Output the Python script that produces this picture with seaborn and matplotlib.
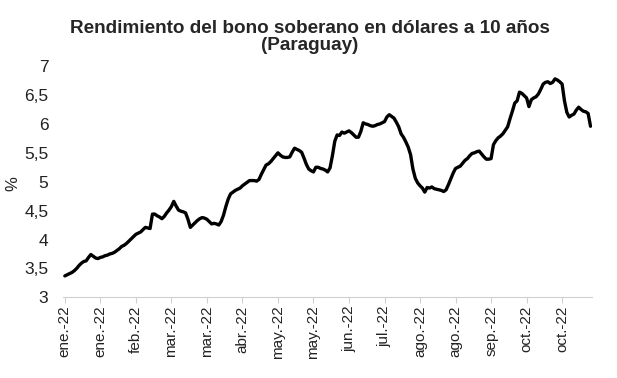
import numpy as np
import pandas as pd
import seaborn as sns
import matplotlib.pyplot as plt

# rendimiento diario (dias habiles desde 03-ene-2022), en %
rendimiento = [
    3.37, 3.39, 3.41, 3.43, 3.46, 3.50, 3.55, 3.59, 3.62, 3.63,
    3.69, 3.74, 3.71, 3.68, 3.67, 3.69, 3.70, 3.72, 3.73, 3.75,
    3.76, 3.78, 3.81, 3.84, 3.88, 3.90, 3.93, 3.97, 4.01, 4.05,
    4.09, 4.11, 4.13, 4.17, 4.21, 4.20, 4.19, 4.44, 4.44, 4.41,
    4.39, 4.36, 4.40, 4.46, 4.51, 4.57, 4.66, 4.58, 4.51, 4.49,
    4.48, 4.46, 4.35, 4.21, 4.25, 4.29, 4.33, 4.36, 4.38, 4.37,
    4.35, 4.31, 4.27, 4.28, 4.27, 4.25, 4.31, 4.42, 4.57, 4.70,
    4.79, 4.82, 4.85, 4.87, 4.89, 4.93, 4.96, 4.99, 5.02, 5.02,
    5.02, 5.01, 5.04, 5.13, 5.21, 5.29, 5.31, 5.35, 5.40, 5.45,
    5.50, 5.46, 5.43, 5.42, 5.42, 5.43, 5.51, 5.58, 5.56, 5.54,
    5.51, 5.41, 5.30, 5.22, 5.19, 5.17, 5.25, 5.25, 5.23, 5.22,
    5.20, 5.17, 5.24, 5.45, 5.70, 5.81, 5.80, 5.86, 5.84, 5.86,
    5.88, 5.85, 5.81, 5.77, 5.77, 5.87, 6.02, 6.00, 5.99, 5.97,
    5.96, 5.97, 5.99, 6.00, 6.02, 6.04, 6.12, 6.16, 6.13, 6.10,
    6.03, 5.95, 5.83, 5.77, 5.69, 5.60, 5.47, 5.22, 5.06, 4.98,
    4.93, 4.89, 4.82, 4.90, 4.89, 4.91, 4.88, 4.87, 4.86, 4.85,
    4.83, 4.86, 4.95, 5.05, 5.15, 5.23, 5.25, 5.27, 5.32, 5.37,
    5.40, 5.45, 5.49, 5.50, 5.52, 5.53, 5.48, 5.43, 5.39, 5.39,
    5.40, 5.64, 5.71, 5.76, 5.79, 5.83, 5.89, 5.95, 6.09, 6.22,
    6.36, 6.40, 6.55, 6.53, 6.49, 6.45, 6.30, 6.42, 6.45, 6.47,
    6.52, 6.60, 6.69, 6.72, 6.73, 6.70, 6.72, 6.78, 6.76, 6.73,
    6.69, 6.40, 6.20, 6.12, 6.15, 6.17, 6.24, 6.29, 6.25, 6.22,
    6.21, 6.18, 5.96,
]
meses = ["ene", "feb", "mar", "abr", "may", "jun",
         "jul", "ago", "sep", "oct", "nov", "dic"]
y_ticks = [3, 3.5, 4, 4.5, 5, 5.5, 6, 6.5, 7]

fechas = pd.bdate_range("2022-01-03", periods=len(rendimiento))
df = pd.DataFrame({"idx": np.arange(len(rendimiento)), "valor": rendimiento})

sns.set_style("white")
plt.rcParams["font.family"] = ["Liberation Sans", "DejaVu Sans"]

fig = plt.figure(figsize=(6.17, 3.78), dpi=100)
ax = fig.add_axes([0.102, 0.2135, 0.857, 0.6115])

sns.lineplot(data=df, x="idx", y="valor", ax=ax, color="black", linewidth=2.4)

pos = np.arange(0, len(rendimiento), 15)
ax.set_xticks(pos)
ax.set_xticklabels([f"{meses[fechas[i].month - 1]}.-{fechas[i]:%y}" for i in pos],
                   rotation=90, fontsize=11, color="#222222")
ax.set_yticks(y_ticks)
ax.set_yticklabels([f"{v:g}".replace(".", ",") for v in y_ticks],
                   fontsize=12.5, color="#222222")
ax.set_xlim(-0.8, 222.5)
ax.set_ylim(3, 7)

ax.set_xlabel("")
ax.set_ylabel("%", fontsize=12, color="#222222")
ax.yaxis.set_label_coords(-0.08, 0.49)

for s in ["top", "right", "left"]:
    ax.spines[s].set_visible(False)
ax.spines["bottom"].set_color("#d0d0d0")
ax.tick_params(axis="x", bottom=True, length=4, color="#d0d0d0", pad=2)
ax.tick_params(axis="y", left=False, pad=7)

fig.suptitle("Rendimiento del bono soberano en dólares a 10 años\n(Paraguay)",
             x=0.502, y=0.948, fontsize=13.6, fontweight="bold", linespacing=1.0)

fig.savefig("out.png", dpi=100)
